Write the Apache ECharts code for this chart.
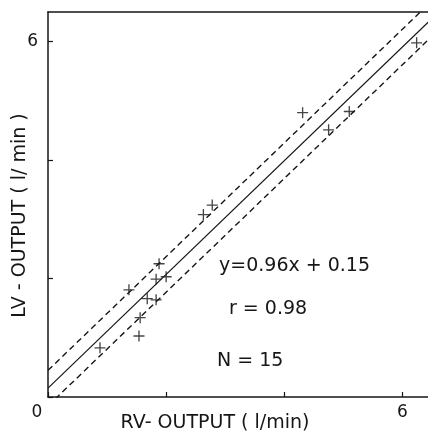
<!DOCTYPE html>
<html><head><meta charset="utf-8">
<script src="https://cdn.jsdelivr.net/npm/echarts@6/dist/echarts.min.js"></script>
<style>html,body{margin:0;padding:0;background:#fff}#c{width:428px;height:438px}</style>
</head><body><div id="c"></div>
<script>
// RV output (x) and LV output (y), l/min
const rvOutput = [0.88, 1.54, 1.56, 1.68, 1.83, 1.37, 1.83, 2.00, 1.88, 2.63, 2.78, 4.31, 4.75, 5.10, 6.24];
const lvOutput = [0.83, 1.03, 1.34, 1.66, 1.64, 1.81, 1.99, 2.03, 2.25, 3.08, 3.24, 4.80, 4.51, 4.82, 5.98];
const slope = 0.96, intercept = 0.15, band = 0.30;
const lineX = [0, 6.5];
const xTickLabels = {0: '0', 6: '6'};
const yTickLabels = {6: '6'};
const statTexts = ['y=0.96x + 0.15', 'r = 0.98', 'N = 15'];

const ink = '#161616';
const font = 'DejaVu Sans';
const pts = rvOutput.map((x, i) => [x, lvOutput[i]]);
const mk = b => lineX.map(x => [x, slope * x + b]);
const cross = 'path://M4.4,0h1.2v4.4h4.4v1.2h-4.4v4.4h-1.2v-4.4h-4.4v-1.2h4.4z';

const chart = echarts.init(document.getElementById('c'));
chart.setOption({
  backgroundColor: '#fff',
  animation: false,
  grid: {left: 48, top: 12, bottom: 41, right: -4, containLabel: false, outerBoundsMode: 'none'},
  xAxis: [{
    type: 'value', min: 0, max: 6.5, interval: 2,
    splitLine: {show: false},
    axisLine: {lineStyle: {color: ink, width: 1.5}},
    axisTick: {inside: true, length: 5, lineStyle: {color: ink, width: 1.2}},
    axisLabel: {
      color: ink, fontSize: 17, fontFamily: font, margin: 7, showMaxLabel: false,
      formatter: v => v === 0 ? '{o|0}' : (xTickLabels[v] || ''),
      rich: {o: {fontSize: 17, fontFamily: font, color: ink, padding: [0, 22, 0, 0]}}
    },
    name: 'RV- OUTPUT ( l/min)', nameLocation: 'middle', nameGap: 17, nameMoveOverlap: false,
    nameTextStyle: {color: ink, fontSize: 19, fontFamily: font, padding: [0, 50, 0, 0]}
  }, {
    type: 'value', position: 'top', min: 0, max: 6.5,
    splitLine: {show: false}, axisTick: {show: false}, axisLabel: {show: false},
    axisLine: {show: true, lineStyle: {color: ink, width: 1.5}}
  }],
  yAxis: {
    type: 'value', min: 0, max: 6.5, interval: 2,
    splitLine: {show: false},
    axisLine: {lineStyle: {color: ink, width: 1.5}},
    axisTick: {inside: true, length: 5, lineStyle: {color: ink, width: 1.2}},
    axisLabel: {color: ink, fontSize: 17, fontFamily: font, margin: 10, showMaxLabel: false,
      formatter: v => yTickLabels[v] || ''},
    name: 'LV - OUTPUT ( l/ min )', nameLocation: 'middle', nameGap: 18, nameMoveOverlap: false,
    nameTextStyle: {color: ink, fontSize: 19, fontFamily: font, padding: [0, 22, 0, 0]}
  },
  series: [
    {type: 'line', data: mk(intercept), symbol: 'none', lineStyle: {color: ink, width: 1.2}, clip: true},
    {type: 'line', data: mk(intercept + band), symbol: 'none', lineStyle: {color: ink, width: 1.4, type: [6, 4]}, clip: true},
    {type: 'line', data: mk(intercept - band), symbol: 'none', lineStyle: {color: ink, width: 1.4, type: [6, 4]}, clip: true},
    {type: 'scatter', data: pts, symbol: cross, symbolSize: 11, itemStyle: {color: ink}, z: 5}
  ],
  graphic: [
    {type: 'text', left: 219, top: 257, style: {text: statTexts[0], font: '19px "DejaVu Sans"', fill: ink}},
    {type: 'text', left: 229, top: 300, style: {text: statTexts[1], font: '19px "DejaVu Sans"', fill: ink}},
    {type: 'text', left: 217, top: 352, style: {text: statTexts[2], font: '19px "DejaVu Sans"', fill: ink}}
  ]
});
</script></body></html>
